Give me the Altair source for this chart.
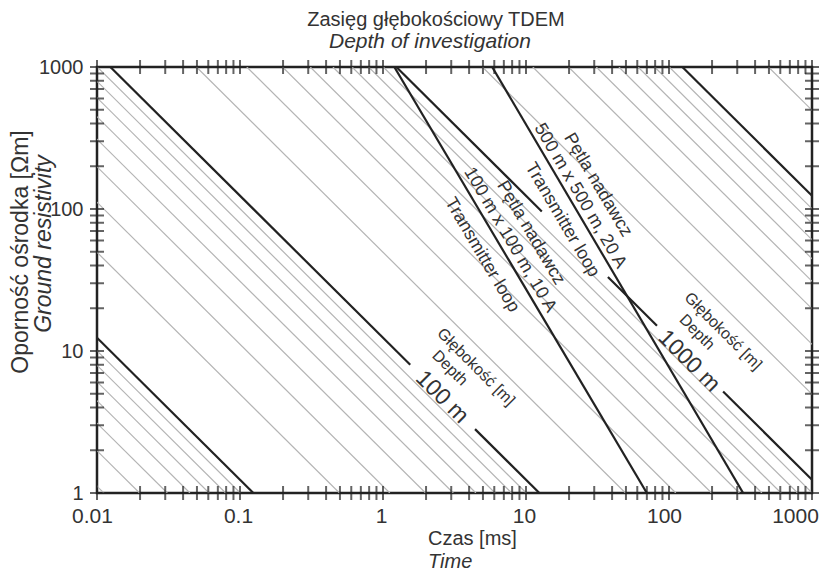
import altair as alt
import pandas as pd

# ---------------- data ----------------
X_TICKS = [0.01, 0.02, 0.03, 0.04, 0.05, 0.06, 0.07, 0.08, 0.09,
           0.1, 0.2, 0.3, 0.4, 0.5, 0.6, 0.7, 0.8, 0.9,
           1, 2, 3, 4, 5, 6, 7, 8, 9,
           10, 20, 30, 40, 50, 60, 70, 80, 90,
           100, 200, 300, 400, 500, 600, 700, 800, 900, 1000]
Y_TICKS = [1, 2, 3, 4, 5, 6, 7, 8, 9,
           10, 20, 30, 40, 50, 60, 70, 80, 90,
           100, 200, 300, 400, 500, 600, 700, 800, 900, 1000]
X_LABELS = [0.01, 0.1, 1, 10, 100, 1000]
Y_LABELS = [1, 10, 100, 1000]

# depth contours (m): resistivity * time = RHO_T_PER_M2 * depth^2
THIN_DEPTHS_M = [3, 4, 5, 6, 7, 8, 9,
                 20, 30, 40, 50, 60, 70, 80, 90,
                 200, 300, 400, 500, 600, 700, 800, 900,
                 2000, 3000, 4000, 5000, 6000, 7000, 8000, 9000,
                 20000]
THICK_DEPTHS_M = [10, 100, 1000, 10000]
RHO_T_PER_M2 = 0.00124          # Ωm·ms per m²
LABEL_GAPS_MS = {100: [(1.55, 4.4)], 1000: [(12.9, 37.4), (82.4, 239.0)]}

# transmitter-loop limits: time at 1000 Ωm and at 1 Ωm
LOOP_IDS = ["loop100", "loop500"]
LOOP_T_AT_1000 = [1.2, 5.8]
LOOP_T_AT_1 = [70, 330]

# in-plot labels
LABEL_TEXT = ["100 m", "Depth", "Głębokość [m]",
              "1000 m", "Depth", "Głębokość [m]",
              "Pętla nadawcz", "100 m x 100 m, 10 A", "Transmitter loop",
              "Pętla nadawcz", "500 m x 500 m, 20 A", "Transmitter loop"]
LABEL_T = [2.59, 2.94, 4.47,
           138, 157, 239,
           10.8, 7.73, 4.92,
           31.8, 23.9, 17.9]
LABEL_RHO = [4.74, 7.59, 7.72,
             8.5, 13.6, 13.8,
             67.8, 60.5, 47.4,
             147.5, 123.5, 83.7]
LABEL_ANGLE = [45, 45, 45, 45, 45, 45, 59.5, 59.5, 59.5, 59.5, 59.5, 59.5]
LABEL_SIZE = [23, 16, 16, 23, 16, 16, 18, 18, 18, 18, 18, 18]

TITLE = "Zasięg głębokościowy TDEM"
SUBTITLE = "Depth of investigation"
X_TITLE = "Czas [ms]"
X_SUBTITLE = "Time"
Y_TITLE = "Oporność ośrodka [Ωm]"
Y_SUBTITLE = "Ground resistivity"

# ---------------- tables ----------------
thin_rows = []
for d in THIN_DEPTHS_M:
    k = RHO_T_PER_M2 * d * d
    thin_rows.append({"id": f"d{d}", "t": k / 1000.0, "rho": 1000.0})
    thin_rows.append({"id": f"d{d}", "t": k / 1.0, "rho": 1.0})
thin_df = pd.DataFrame(thin_rows)

thick_rows = []
for d in THICK_DEPTHS_M:
    k = RHO_T_PER_M2 * d * d
    bounds = [k / 1000.0]
    for g0, g1 in LABEL_GAPS_MS.get(d, []):
        bounds += [g0, g1]
    bounds.append(k)
    for i in range(0, len(bounds), 2):
        sid = f"d{d}_{i}"
        thick_rows.append({"id": sid, "t": bounds[i], "rho": k / bounds[i]})
        thick_rows.append({"id": sid, "t": bounds[i + 1], "rho": k / bounds[i + 1]})
for lid, t_top, t_bot in zip(LOOP_IDS, LOOP_T_AT_1000, LOOP_T_AT_1):
    thick_rows.append({"id": lid, "t": t_top, "rho": 1000.0})
    thick_rows.append({"id": lid, "t": t_bot, "rho": 1.0})
thick_df = pd.DataFrame(thick_rows)

lab_df = pd.DataFrame({"text": LABEL_TEXT, "t": LABEL_T, "rho": LABEL_RHO,
                       "angle": LABEL_ANGLE, "size": LABEL_SIZE})
xt_df = pd.DataFrame({"t": X_TICKS})
yt_df = pd.DataFrame({"rho": Y_TICKS})

# ---------------- chart ----------------
W, H = 715, 426
FONT = "Liberation Sans"
TXT = "#333333"
INK = "#222222"

xs = alt.Scale(type="log", domain=[0.01, 1000])
ys = alt.Scale(type="log", domain=[1, 1000])

x_axis = alt.Axis(values=X_LABELS, format="~g", ticks=False, domain=False, grid=False,
                  labelFlush=False, labelFont=FONT, labelFontSize=21, labelColor=TXT,
                  labelPadding=12,
                  labelOffset={"condition": [
                      {"test": "datum.value > 500", "value": -17},
                      {"test": "datum.value > 50", "value": -5},
                      {"test": "datum.value < 0.05", "value": -5}],
                      "value": -2})
y_axis = alt.Axis(values=Y_LABELS, format="~g", ticks=False, domain=False, grid=False,
                  labelFlush=False, labelFont=FONT, labelFontSize=20, labelColor=TXT,
                  labelPadding=14)


def X():
    return alt.X("t:Q", scale=xs, axis=x_axis, title=None)


def Y():
    return alt.Y("rho:Q", scale=ys, axis=y_axis, title=None)


thin = alt.Chart(thin_df).mark_line(color="#b4b4b4", strokeWidth=1.2, clip=True).encode(
    x=X(), y=Y(), detail="id:N")
thick = alt.Chart(thick_df).mark_line(color=INK, strokeWidth=2.2, clip=True).encode(
    x=X(), y=Y(), detail="id:N")
labels = alt.Chart(lab_df).mark_text(font=FONT, color=TXT, align="center",
                                     baseline="middle").encode(
    x=X(), y=Y(), text="text:N",
    angle=alt.Angle("angle:Q", scale=None),
    size=alt.Size("size:Q", scale=None, legend=None))

tick_kw = dict(size=14, thickness=2, color=INK)
xt_top = alt.Chart(xt_df).mark_tick(orient="vertical", **tick_kw).encode(x=X(), y=alt.value(0))
xt_bot = alt.Chart(xt_df).mark_tick(orient="vertical", **tick_kw).encode(x=X(), y=alt.value(H))
yt_left = alt.Chart(yt_df).mark_tick(orient="horizontal", **tick_kw).encode(y=Y(), x=alt.value(0))
yt_right = alt.Chart(yt_df).mark_tick(orient="horizontal", **tick_kw).encode(y=Y(), x=alt.value(W))


def text_layer(s, x, y, size, italic=False, align="center", angle=0):
    kw = dict(font=FONT, color=TXT, fontSize=size, align=align, baseline="alphabetic")
    if italic:
        kw["fontStyle"] = "italic"
    if angle:
        kw["angle"] = angle
    return alt.Chart(pd.DataFrame({"s": [s]})).mark_text(**kw).encode(
        x=alt.value(x), y=alt.value(y), text="s:N")


titles = [
    text_layer(TITLE, 339, -41, 20),
    text_layer(SUBTITLE, 333, -19, 21, italic=True),
    text_layer(X_TITLE, 331, 478, 20, align="left"),
    text_layer(X_SUBTITLE, 331, 501, 20, italic=True, align="left"),
    text_layer(Y_TITLE, -69, 185, 23, angle=270),
    text_layer(Y_SUBTITLE, -46, 177, 23, italic=True, angle=270),
]

chart = alt.layer(thin, thick, xt_top, xt_bot, yt_left, yt_right, labels, *titles).properties(
    width=W, height=H,
    autosize=alt.AutoSizeParams(type="none"),
    padding={"left": 89, "top": 59, "right": 7, "bottom": 80},
    background="white",
).configure_view(stroke=INK, strokeWidth=2.5)

chart.save("out.html", embed_options={"renderer": "svg", "actions": False})
